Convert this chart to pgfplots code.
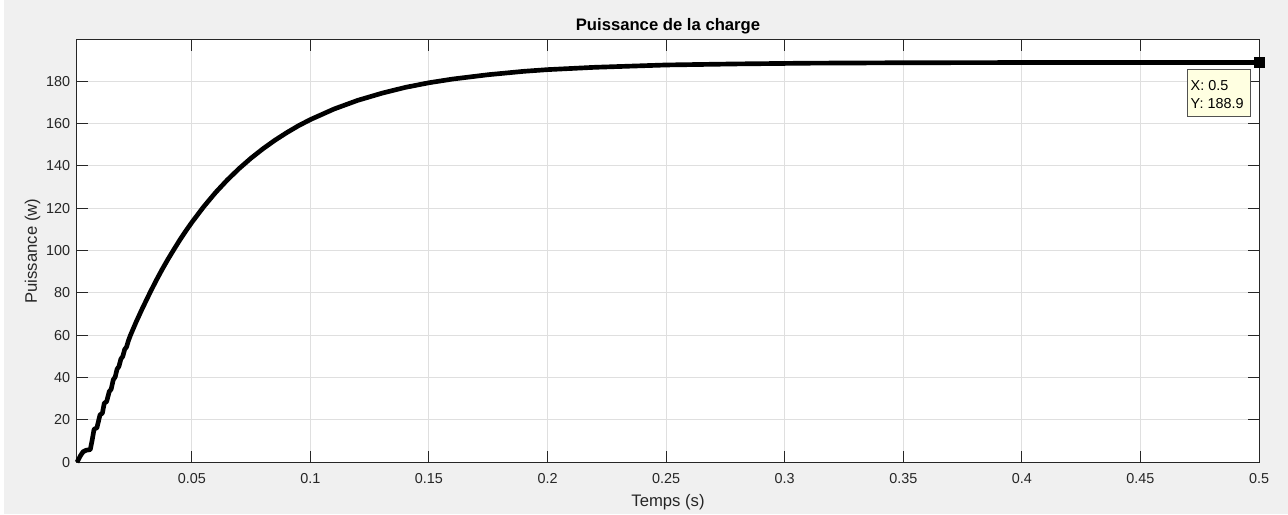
\documentclass[border=0pt]{standalone}
\usepackage{pgfplots}
\pgfplotsset{compat=1.18}
\usepackage{fontspec}
\setmainfont{Liberation Sans}
\definecolor{figbg}{RGB}{240,240,240}
\definecolor{axcol}{RGB}{38,38,38}
\definecolor{gridcol}{RGB}{223,223,223}
\definecolor{tipfill}{RGB}{255,255,225}
\begin{document}
\begin{tikzpicture}
\fill[figbg] (-57.75pt,-38.8pt) rectangle (908.25pt,346.7pt);
\fill[white] (-57.75pt,-38.8pt) rectangle (-54.75pt,346.7pt);
\begin{axis}[
  at={(0,0)}, anchor=south west,
  scale only axis, width=886.5pt, height=316.7pt,
  xmin=0.0016, xmax=0.5, ymin=0, ymax=199.5,
  xtick={0.05,0.1,0.15,0.2,0.25,0.3,0.35,0.4,0.45,0.5},
  xticklabels={0.05,0.1,0.15,0.2,0.25,0.3,0.35,0.4,0.45,0.5},
  ytick={0,20,40,60,80,100,120,140,160,180},
  yticklabels={0,20,40,60,80,100,120,140,160,180},
  tick align=inside, major tick length=8.5pt,
  grid=major,
  major grid style={draw=gridcol, line width=0.75pt},
  axis line style={draw=axcol, line width=0.75pt},
  every tick/.style={draw=axcol, line width=0.75pt},
  axis background/.style={fill=white},
  ticklabel style={font=\fontsize{10.8}{12}\selectfont, text=axcol},
  /pgf/number format/assume math mode=true,
  xticklabel style={yshift=-4.6pt},
  yticklabel style={xshift=-1.6pt},
  xlabel={Temps (s)},
  xlabel style={font=\fontsize{12.5}{14}\selectfont, text=axcol, at={(axis description cs:0.5,-0.0935)}, anchor=center},
  ylabel={Puissance (w)},
  ylabel style={font=\fontsize{12.5}{14}\selectfont, text=axcol, at={(axis description cs:-0.0375,0.5)}, anchor=center, rotate=0},
  clip=false,
]
\addplot[black, line width=3.5pt, line join=round] coordinates {
(0.0016,0) (0.0030,3.0) (0.0042,5.0) (0.0055,5.7) (0.0072,6.0) (0.0080,10.5)
(0.0088,15.6) (0.0100,16.3) (0.0113,22.4) (0.0123,23.2) (0.0131,27.9) (0.0141,28.7)
(0.0152,33.4) (0.0160,34.5) (0.0169,39.0) (0.0177,40.3) (0.0185,44.0) (0.0193,45.3)
(0.0201,48.8) (0.0209,50.0) (0.0217,53.3) (0.0225,54.5) (0.0233,57.5) (0.0241,59.9)
(0.0265,66.2) (0.0290,72.3) (0.0325,80.4) (0.0350,85.9) (0.0375,91.1) (0.0400,96.0)
(0.0425,100.6) (0.0450,105.1) (0.0475,109.3) (0.0500,113.3) (0.0550,120.7) (0.0600,127.4)
(0.0650,133.4) (0.0700,138.8) (0.0750,143.7) (0.0800,148.1) (0.0850,152.1) (0.0900,155.7)
(0.0950,159.0) (0.1000,161.9) (0.1100,166.9) (0.1200,171.0) (0.1300,174.3) (0.1400,177.1)
(0.1500,179.3) (0.1600,181.05) (0.1750,183.1) (0.1900,184.7) (0.2000,185.5) (0.2200,186.6)
(0.2500,187.7) (0.2800,188.2) (0.3100,188.55) (0.3500,188.75) (0.4000,188.85) (0.4500,188.9)
(0.5000,188.9)
};
\addplot[only marks, mark=square*, mark size=3.8pt, mark options={fill=black, draw=black}] coordinates {(0.5,188.9)};
\draw[draw=axcol!80, fill=tipfill, line width=0.5pt] (axis cs:0.4697,185.5) rectangle (axis cs:0.4963,163.2);
\node[anchor=west, inner sep=0pt, font=\fontsize{10.8}{12}\selectfont] at (axis cs:0.4711,178.0) {X: 0.5};
\node[anchor=west, inner sep=0pt, font=\fontsize{10.8}{12}\selectfont] at (axis cs:0.4711,169.4) {Y: 188.9};
\node[anchor=base, inner sep=0pt, yshift=6.75pt, font=\fontsize{12.5}{14}\selectfont\bfseries] at (rel axis cs:0.5,1) {Puissance de la charge};
\end{axis}
\pgfresetboundingbox
\path[use as bounding box] (-57.75pt,-38.8pt) rectangle (908.25pt,346.7pt);
\end{tikzpicture}
\end{document}
